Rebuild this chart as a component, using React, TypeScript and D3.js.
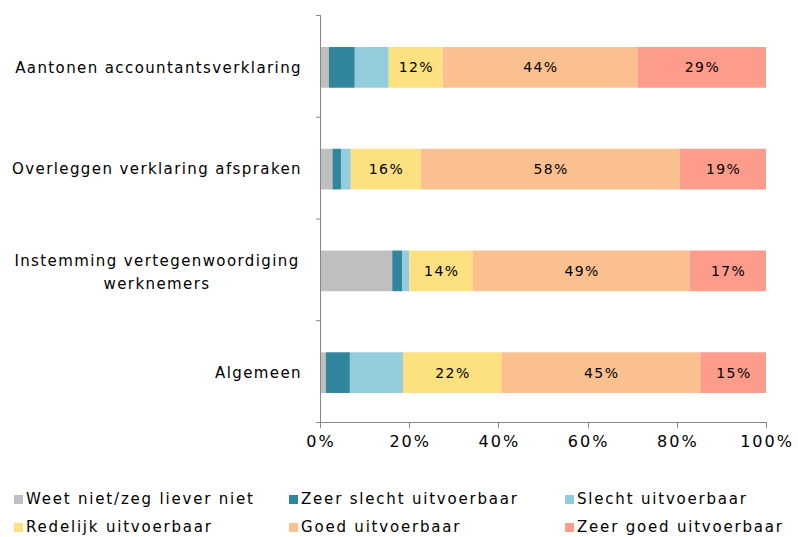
import * as d3 from "d3";

const categories = [
  "Aantonen accountantsverklaring",
  "Overleggen verklaring afspraken",
  "Instemming vertegenwoordiging werknemers",
  "Algemeen",
];
const seriesNames = [
  "Weet niet/zeg liever niet",
  "Zeer slecht uitvoerbaar",
  "Slecht uitvoerbaar",
  "Redelijk uitvoerbaar",
  "Goed uitvoerbaar",
  "Zeer goed uitvoerbaar",
];
// percent per category, one array per series
const weetNiet = [2.0, 2.8, 16.2, 1.3];
const zeerSlecht = [5.8, 1.9, 2.2, 5.4];
const slecht = [7.6, 2.2, 1.6, 11.9];
const redelijk = [12.1, 15.7, 14.3, 22.1];
const goed = [43.7, 58.1, 48.6, 44.6];
const zeerGoed = [28.8, 19.3, 17.1, 14.7];
const tickValues = [0, 20, 40, 60, 80, 100];

const colors = ["#BFBFBF", "#31859C", "#93CDDD", "#FDE07F", "#FAC090", "#FE9C8C"];
const labelled = [false, false, false, true, true, true];

const W = 798;
const H = 537;
const font = "DejaVu Sans, Verdana, sans-serif";

export default function App() {
  const series = [weetNiet, zeerSlecht, slecht, redelijk, goed, zeerGoed];
  const x = d3.scaleLinear().domain([0, 100]).range([320, 766]);
  const y = d3.scaleBand().domain(categories).range([16.5, 423.5]).paddingInner(0.6).paddingOuter(0.3);
  const stackData = categories.map((c, i) => {
    const row: Record<string, number | string> = { cat: c };
    seriesNames.forEach((s, j) => (row[s] = series[j][i]));
    return row;
  });
  const stacked = d3.stack<any>().keys(seriesNames)(stackData);
  const step = (422 - 15) / categories.length;

  return (
    <svg width={W} height={H} style={{ position: "absolute", left: 0, top: 0 }} fontFamily={font}>
      <rect width={W} height={H} fill="#fff" />
      {stacked.map((layer, j) => (
        <g key={seriesNames[j]}>
          {layer.map((d, i) => {
            const x0 = x(d[0]);
            const x1 = x(d[1]);
            const yy = y(categories[i])!;
            return (
              <g key={i}>
                <rect x={x0} y={yy} width={x1 - x0} height={y.bandwidth()} fill={colors[j]} />
                {labelled[j] && (
                  <text
                    x={(x0 + x1) / 2 + 0.7}
                    y={yy + y.bandwidth() / 2}
                    dy="0.35em"
                    textAnchor="middle"
                    fontSize={14}
                    letterSpacing={1.4}
                    fill="#000"
                  >
                    {Math.round(series[j][i])}%
                  </text>
                )}
              </g>
            );
          })}
        </g>
      ))}
      {/* vertical axis */}
      <line x1={320.5} x2={320.5} y1={15} y2={422} stroke="#868686" />
      {d3.range(categories.length + 1).map((k) => (
        <line key={k} x1={316} x2={320} y1={15 + k * step + 0.5} y2={15 + k * step + 0.5} stroke="#868686" />
      ))}
      {/* horizontal axis */}
      <line x1={316} x2={766} y1={422.5} y2={422.5} stroke="#868686" />
      {tickValues.map((t) => (
        <g key={t}>
          <line x1={Math.round(x(t)) + 0.5} x2={Math.round(x(t)) + 0.5} y1={422} y2={428} stroke="#868686" />
          <text x={x(t) + 1} y={447} textAnchor="middle" fontSize={16} letterSpacing={2} fill="#000">
            {t}%
          </text>
        </g>
      ))}
      {/* category labels */}
      {categories.map((c, i) => {
        const cy = y(c)! + y.bandwidth() / 2;
        if (c === "Instemming vertegenwoordiging werknemers") {
          return (
            <text key={c} textAnchor="middle" fontSize={15} letterSpacing={1.4} fill="#000">
              <tspan x={157} y={cy - 5}>Instemming vertegenwoordiging</tspan>
              <tspan x={157} y={cy + 18}>werknemers</tspan>
            </text>
          );
        }
        return (
          <text key={c} x={302} y={cy} dy="0.35em" textAnchor="end" fontSize={15} letterSpacing={1.4} fill="#000">
            {c}
          </text>
        );
      })}
      {/* legend */}
      {seriesNames.map((s, j) => {
        const col = j % 3;
        const row = Math.floor(j / 3);
        const lx = [14, 289, 565][col];
        const ly = [499, 527][row];
        return (
          <g key={s}>
            <rect x={lx} y={ly - 4} width={9} height={9} fill={colors[j]} />
            <text x={lx + 12} y={ly} dy="0.35em" fontSize={15} letterSpacing={1.8} fill="#000">
              {s}
            </text>
          </g>
        );
      })}
    </svg>
  );
}
